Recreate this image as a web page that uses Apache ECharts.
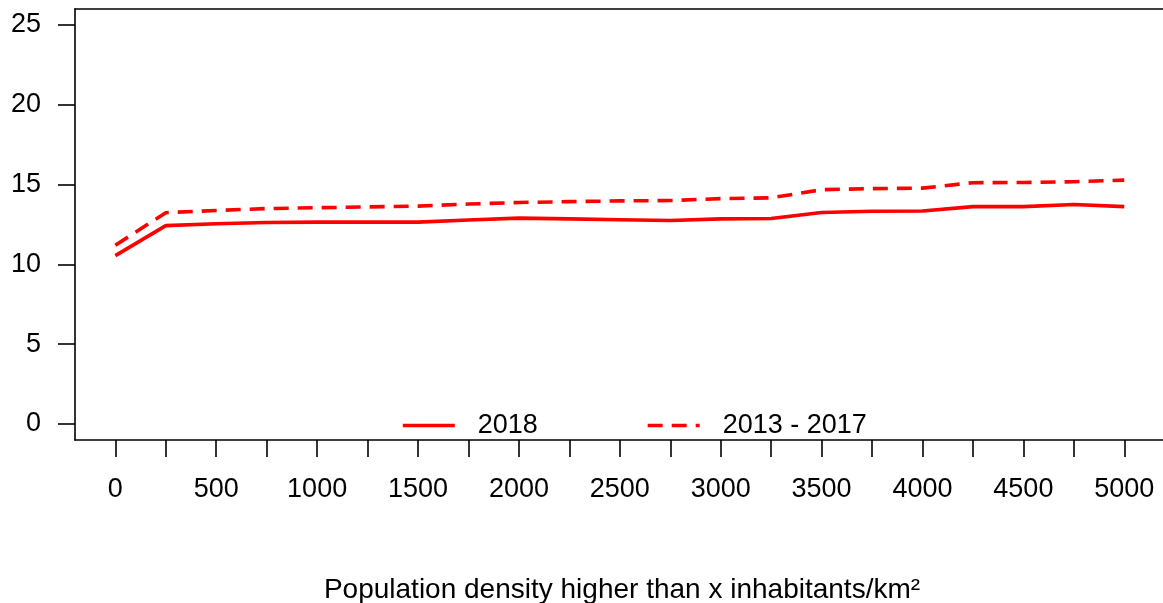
<!DOCTYPE html>
<html>
<head>
<meta charset="utf-8">
<script src="https://cdn.jsdelivr.net/npm/echarts@6/dist/echarts.min.js"></script>
<style>
html,body{margin:0;padding:0;background:#fff;}
#chart{width:1163px;height:603px;}
</style>
</head>
<body>
<div id="chart"></div>
<script>
const xValues = [0,250,500,750,1000,1250,1500,1750,2000,2250,2500,2750,3000,3250,3500,3750,4000,4250,4500,4750,5000];
const series2018 = [10.55,12.43,12.55,12.63,12.65,12.65,12.65,12.78,12.9,12.85,12.8,12.75,12.85,12.88,13.25,13.33,13.35,13.62,13.62,13.75,13.62];
const series2013_2017 = [11.2,13.24,13.38,13.5,13.55,13.6,13.65,13.78,13.88,13.93,13.98,14.0,14.12,14.17,14.68,14.75,14.78,15.12,15.13,15.18,15.28];
const xTicks = [0,250,500,750,1000,1250,1500,1750,2000,2250,2500,2750,3000,3250,3500,3750,4000,4250,4500,4750,5000];
const xLabels = [0,500,1000,1500,2000,2500,3000,3500,4000,4500,5000];
const yTicks = [0,5,10,15,20,25];
const seriesNames = ['2018','2013 - 2017'];
const xTitle = 'Population density higher than x inhabitants/km²';

const FONT = "'Liberation Sans', Arial, sans-serif";
const chart = echarts.init(document.getElementById('chart'), null, {renderer:'canvas'});
const pair = arr => xValues.map((x,i)=>[x,arr[i]]);
chart.setOption({
  animation:false,
  backgroundColor:'#fff',
  grid:{left:75, top:9, width:1088, height:431, show:false},
  xAxis:[{
    type:'value', min:-200, max:5192,
    axisLine:{show:true, onZero:false, lineStyle:{color:'#000', width:1.6}},
    axisTick:{show:true, length:17, customValues:xTicks, lineStyle:{color:'#000', width:1.6}},
    axisLabel:{show:true, customValues:xLabels, margin:36, color:'#000', fontSize:27, fontFamily:FONT, formatter:v=>String(v)},
    splitLine:{show:false}
  },{
    type:'value', position:'top', min:-200, max:5192,
    axisLine:{show:true, onZero:false, lineStyle:{color:'#000', width:1.6}},
    axisTick:{show:false}, axisLabel:{show:false}, splitLine:{show:false}
  }],
  yAxis:{
    type:'value', min:-1, max:26,
    axisLine:{show:true, onZero:false, lineStyle:{color:'#000', width:1.6}},
    axisTick:{show:true, length:17, customValues:yTicks, lineStyle:{color:'#000', width:1.6}},
    axisLabel:{show:true, customValues:yTicks, margin:34, color:'#000', fontSize:27, fontFamily:FONT, formatter:v=>String(v)},
    splitLine:{show:false}
  },
  legend:{
    left:401, top:412, padding:0, itemWidth:52, itemHeight:14, itemGap:108,
    itemStyle:{opacity:0},
    lineStyle:{width:3.6},
    textStyle:{color:'#000', fontSize:27, fontFamily:FONT, padding:[0,0,0,18]},
    data:seriesNames
  },
  graphic:[{
    type:'text', x:622, y:590,
    style:{text:xTitle, fill:'#000', font:"28px 'Liberation Sans', Arial, sans-serif", textAlign:'center', textVerticalAlign:'middle'}
  }],
  series:[
    {name:seriesNames[0], type:'line', data:pair(series2018), symbol:'none', color:'#ff0000',
     lineStyle:{color:'#ff0000', width:3.6, join:'round'}},
    {name:seriesNames[1], type:'line', data:pair(series2013_2017), symbol:'none', color:'#ff0000',
     lineStyle:{color:'#ff0000', width:3.6, type:[15,9], join:'round'}}
  ]
});
</script>
</body>
</html>
